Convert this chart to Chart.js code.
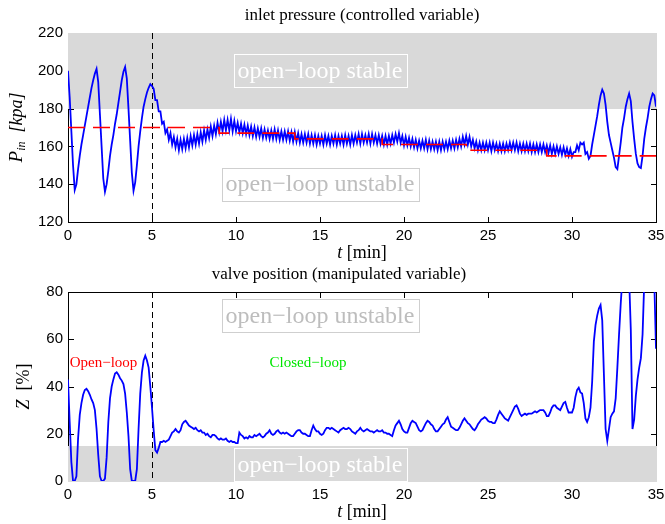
<!DOCTYPE html>
<html lang="en">
  <head>
    <meta charset="UTF-8" />
    <title>Inlet pressure and valve position</title>
    <script src="https://cdn.jsdelivr.net/npm/chart.js"></script>
    <style>
      body {
        margin: 0;
        background: #ffffff;
      }
      .wrap {
        position: relative;
        width: 665px;
        height: 524px;
      }
      canvas {
        position: absolute;
        left: 0;
      }
      #pressureChart {
        top: 0;
      }
      #valveChart {
        top: 262px;
      }
    </style>
  </head>
  <body>
    <div class="wrap">
      <canvas id="pressureChart" width="665" height="262"></canvas>
      <canvas id="valveChart" width="665" height="262"></canvas>
    </div>

    <script>
      // sampling: one value every 0.1 min, from 0 to 35 min
      const sampleTime = 0.1;
      const switchTime = 5; // open-loop -> closed-loop

      const timeTicks = [0, 5, 10, 15, 20, 25, 30, 35];
      const pressureTicks = [120, 140, 160, 180, 200, 220];
      const valveTicks = [0, 20, 40, 60, 80];

      // pressure setpoint (stepped), kPa
      const setpointTimes = [0, 9, 13.5, 18.7, 23.7, 28.5, 35];
      const setpointValues = [170, 167, 164, 161, 158, 155, 155];

      // inlet pressure P_in [kPa]
      const inletPressure = [
        200, 186, 168, 150, 137, 140, 148, 155, 161, 166,
        171, 176, 181, 186, 191, 195, 198.5, 201, 194, 177,
        160, 143, 136, 140, 147, 155, 161, 166, 172, 177,
        183, 189, 195, 199.5, 202, 196, 180, 163, 146, 136.5,
        141, 150, 160, 168, 175, 181, 185, 188.5, 191, 193,
        192,
        190.5, 184.5, 184.5, 178.5, 178.5, 172, 173, 167, 169, 163.5,
        167, 161, 165, 159.5, 164, 158, 163.5, 158.5, 164, 159,
        164.5, 159.5, 165.5, 160.5, 166, 161, 166.5, 161.5, 167.5, 162.5,
        168.5, 163.5, 169, 164.5, 170.5, 165.5, 171, 166.5, 172.5, 167.5,
        173, 168, 174, 168.5, 174, 168.5, 174.5, 168, 173.5, 168,
        172.5, 167.5, 172, 167, 171.5, 166.5, 171, 166, 170.5, 165.5,
        170, 165, 169.5, 165, 169.5, 164.5, 169, 164.5, 168.5, 164,
        168.5, 164, 169, 164, 168.5, 163.5, 168, 163.5, 168, 163.5,
        168, 163, 167.5, 162.5, 167.5, 162.5, 167, 162, 166.5, 162,
        166.5, 162, 166.5, 161.5, 166, 161.5, 166, 161, 165.5, 161.5,
        165.5, 161, 166, 161.5, 165.5, 161, 165.5, 161.5, 166, 161,
        165.5, 161.5, 165.5, 161, 166, 161.5, 165.5, 161, 166, 161.5,
        166, 162, 166.5, 161.5, 166.5, 162, 166, 162, 166.5, 161.5,
        166.5, 162, 166, 161.5, 166, 161.5, 165.5, 161, 165.5, 161,
        165.5, 161.5, 166, 162, 166.5, 162.5, 167, 162, 165.5, 160.5,
        165, 160.5, 164.5, 160, 164, 159.5, 163.5, 159, 163, 159,
        163, 159, 163.5, 158.5, 163, 158.5, 162.5, 158.5, 162.5, 158,
        162.5, 158, 162.5, 158.5, 162.5, 158.5, 163, 159, 163, 159,
        163.5, 159.5, 164, 160, 165, 161, 165.5, 161, 165, 160,
        163.5, 159, 162.5, 158, 162, 158, 162, 158, 162, 158,
        162, 157.5, 162, 158, 161.5, 157.5, 161.5, 157.5, 161.5, 157.5,
        161.5, 158, 162, 158, 162, 158, 162, 157.5, 161.5, 157.5,
        161.5, 157.5, 161.5, 157.5, 161.5, 157, 161, 157, 161, 157,
        161, 157, 161, 157, 160.5, 156.5, 160.5, 156, 160, 156,
        160, 156, 159.5, 155.5, 159.5, 155.5, 159, 155, 158.5, 154.5,
        157, 157, 160.5, 158, 162, 161, 162, 156, 157, 153.5,
        155, 161, 166, 171, 176, 182, 187, 190, 188, 182,
        173, 166, 162, 158, 154, 149, 148, 155, 162, 170,
        175, 181, 185, 188, 184, 173, 164, 156, 151, 149,
        148.5, 155, 164, 170, 175, 181, 185, 188, 187, 181
      ];

      // valve position Z [%]
      const valvePosition = [
        43, 25, 8, 0, 0, 2, 18, 28, 33, 36.5,
        38.5, 39, 38, 36.5, 34.5, 33, 30, 22, 11, 2,
        0, 0, 1, 10, 25, 35, 40, 43, 45.5, 46,
        45, 43.5, 42.5, 41, 37, 29, 19, 5, 0, 0,
        0, 5, 22, 37, 46, 51, 53, 51, 48, 40,
        31,
        21.5, 13, 12, 14, 16.5, 16.5, 17, 16.5, 17, 17.5,
        19, 20.5, 21, 22, 21, 20.5, 21.5, 24, 25, 25.5,
        24.5, 23.5, 23, 22.5, 22, 22.5, 21.5, 21, 21.5, 20.5,
        20.5, 19.5, 20, 19, 18.5, 19.5, 19.5, 19, 18, 17.5,
        18, 17.5, 17.5, 18, 17, 16.5, 17, 16.5, 16.5, 16,
        16, 20.5, 19.5, 19, 18, 18.5, 18, 19, 18.5, 18.5,
        19.5, 19, 19.5, 20, 19, 18.5, 19, 20, 20.5, 21.5,
        20, 19.5, 20, 21, 21.5, 20.5, 20, 20.5, 20, 20.5,
        20, 19.5, 19, 19, 20, 21, 21.5, 21.5, 20.5, 20,
        20, 19.5, 19, 19, 21.5, 23.5, 22, 21, 21, 20,
        19.5, 20, 21.5, 22.5, 22.5, 22, 22.5, 22, 21.5, 21,
        20.5, 21.5, 22, 22.5, 22, 22, 22.5, 22, 21, 20.5,
        20, 21, 21.5, 22.5, 21.5, 21, 21.5, 22, 21.5, 21,
        21, 20.5, 21, 21.5, 21, 21, 21.5, 20.5, 20.5, 20,
        20, 19.5, 19, 21.5, 23.5, 24.5, 25.5, 24, 22, 21,
        20.5, 20.5, 22.5, 24.5, 25.5, 25, 24.5, 23, 21.5, 21,
        21.5, 23, 24.5, 25.5, 25, 24, 23.5, 22, 21, 21,
        22, 23, 24, 24.5, 26, 27, 25, 23, 22.5, 22,
        21.5, 21.5, 22.5, 24, 25.5, 26.5, 25.5, 24.5, 24, 23,
        22, 21.5, 22.5, 24, 25, 26, 26.5, 27, 26.5, 25.5,
        25, 25, 24.5, 24.5, 26, 28, 29.5, 28.5, 27.5, 26.5,
        26, 25.5, 27, 28.5, 30, 31.5, 32, 30.5, 28.5, 27.5,
        28, 28.5, 28, 28.5, 28.5, 28.5, 29, 29.5, 29, 29.5,
        30, 30, 30, 29, 27.5, 27.5, 29, 31, 32, 32,
        31, 30.5, 30, 31.5, 33, 33.5, 31, 29, 29, 29,
        31, 35.5, 38.5, 39.5, 37.5, 37, 33, 26.5, 25, 27,
        31, 42, 59, 66, 70, 73, 74.5, 68, 45, 22,
        17, 22, 27, 28.5, 29.5, 35, 48, 62, 75, 86,
        93, 96, 94, 86, 64, 22, 26, 36, 43, 48,
        52, 62, 84, 95, 100, 100, 96, 88, 84, 56
      ];

      const SERIF = '"Liberation Serif", "Times New Roman", serif';
      const SANS = '"Liberation Sans", Arial, sans-serif';

      function toPoints(values) {
        return values.map((v, i) => ({ x: +(i * sampleTime).toFixed(1), y: v }));
      }

      // draw a row of differently styled text pieces centred on (cx, cy)
      function drawRuns(ctx, runs, cx, cy, rotate) {
        ctx.save();
        ctx.translate(cx, cy);
        if (rotate) ctx.rotate(-Math.PI / 2);
        ctx.textBaseline = "middle";
        ctx.textAlign = "left";
        let total = 0;
        runs.forEach((r) => {
          ctx.font = r.font;
          r.w = ctx.measureText(r.text).width;
          total += r.w;
        });
        let pos = -total / 2;
        runs.forEach((r) => {
          ctx.font = r.font;
          ctx.fillStyle = "#000";
          ctx.fillText(r.text, pos, r.dy || 0);
          pos += r.w;
        });
        ctx.restore();
      }

      function framePlugin(o) {
        return {
          id: "matlabFrame",
          beforeDatasetsDraw(chart) {
            const { ctx, chartArea: a, scales } = chart;
            const x = scales.x;
            const y = scales.y;
            ctx.save();
            ctx.fillStyle = "#000";
            ctx.fillRect(a.left, a.top, 1, a.height + 1);
            ctx.fillRect(a.right, a.top, 1, a.height + 1);
            ctx.fillRect(a.left, a.top, a.width + 1, 1);
            ctx.fillRect(a.left, a.bottom, a.width + 1, 1);
            timeTicks.forEach((v) => {
              const px = Math.round(x.getPixelForValue(v));
              ctx.fillRect(px, a.bottom - 5, 1, 5);
              ctx.fillRect(px, a.top, 1, 6);
            });
            o.yTicks.forEach((v) => {
              const py = Math.round(y.getPixelForValue(v));
              ctx.fillRect(a.left, py, 6, 1);
              ctx.fillRect(a.right - 5, py, 6, 1);
            });

            // grey region (drawn over the axes, as in the original)
            const p1 = y.getPixelForValue(o.band[0]);
            const p2 = y.getPixelForValue(o.band[1]);
            let y0 = Math.round(Math.min(p1, p2));
            let y1 = Math.round(Math.max(p1, p2));
            if (o.band[0] <= y.min) y1 += 1;
            ctx.fillStyle = "#d9d9d9";
            ctx.fillRect(a.left, y0, a.width + 1, y1 - y0);

            // switch from open to closed loop
            const sx = Math.round(x.getPixelForValue(switchTime)) + 0.5;
            ctx.strokeStyle = "#000";
            ctx.lineWidth = 1;
            ctx.setLineDash([6, 4]);
            ctx.beginPath();
            ctx.moveTo(sx, a.top);
            ctx.lineTo(sx, a.bottom);
            ctx.stroke();
            ctx.restore();
          },
          afterDatasetsDraw(chart) {
            const { ctx, scales } = chart;
            const x = scales.x;
            const y = scales.y;
            ctx.save();
            o.boxes.forEach((b) => {
              const cx = x.getPixelForValue(b.x);
              const cy = y.getPixelForValue(b.y);
              ctx.font = "24px " + SERIF;
              const w = Math.round(ctx.measureText(b.text).width + 8);
              const h = 33;
              const bx = Math.round(cx - w / 2) + 0.5;
              const by = Math.round(cy - h / 2) + 0.5;
              if (b.fill) {
                ctx.fillStyle = b.fill;
                ctx.fillRect(bx, by, w, h);
              }
              ctx.strokeStyle = b.edge;
              ctx.lineWidth = 1;
              ctx.strokeRect(bx, by, w, h);
              ctx.fillStyle = b.color;
              ctx.textAlign = "center";
              ctx.textBaseline = "middle";
              ctx.fillText(b.text, cx, cy + 1);
            });
            (o.notes || []).forEach((n) => {
              ctx.font = "15px " + SERIF;
              ctx.fillStyle = n.color;
              ctx.textAlign = "left";
              ctx.textBaseline = "middle";
              ctx.fillText(n.text, x.getPixelForValue(n.x), y.getPixelForValue(n.y));
            });
            ctx.restore();
          },
          afterDraw(chart) {
            const { ctx, chartArea: a } = chart;
            ctx.save();
            ctx.font = "17px " + SERIF;
            ctx.fillStyle = "#000";
            ctx.textAlign = "center";
            ctx.textBaseline = "middle";
            ctx.fillText(o.title, o.titleX, o.titleY);
            ctx.restore();
            drawRuns(
              ctx,
              [
                { text: "t", font: "italic 18px " + SERIF },
                { text: " [min]", font: "18px " + SERIF },
              ],
              (a.left + a.right) / 2,
              a.bottom + 31,
              false
            );
            drawRuns(ctx, o.yTitle, o.yTitleX, (a.top + a.bottom) / 2, true);
          },
        };
      }

      function makeChart(id, datasets, yMin, yMax, yTicks, padTop, xHeight, plugin) {
        return new Chart(document.getElementById(id), {
          type: "line",
          data: { datasets },
          options: {
            responsive: false,
            animation: false,
            events: [],
            layout: { padding: { top: padTop, right: 9, left: 0, bottom: 0 } },
            plugins: { legend: { display: false }, tooltip: { enabled: false } },
            elements: { point: { radius: 0 }, line: { tension: 0 } },
            scales: {
              x: {
                type: "linear",
                min: 0,
                max: 35,
                afterBuildTicks: (s) => {
                  s.ticks = timeTicks.map((v) => ({ value: v }));
                },
                afterFit: (s) => {
                  s.height = xHeight;
                  s.paddingLeft = 0;
                  s.paddingRight = 0;
                },
                grid: { display: false, drawTicks: false },
                border: { display: false },
                ticks: {
                  font: { family: SANS, size: 15 },
                  color: "#000",
                  padding: 5,
                  maxRotation: 0,
                  autoSkip: false,
                },
              },
              y: {
                type: "linear",
                min: yMin,
                max: yMax,
                afterBuildTicks: (s) => {
                  s.ticks = yTicks.map((v) => ({ value: v }));
                },
                afterFit: (s) => {
                  s.width = 68;
                  s.paddingTop = 0;
                  s.paddingBottom = 0;
                },
                grid: { display: false, drawTicks: false },
                border: { display: false },
                ticks: {
                  font: { family: SANS, size: 15 },
                  color: "#000",
                  padding: 5,
                  autoSkip: false,
                },
              },
            },
          },
          plugins: [plugin],
        });
      }

      const setpointPts = setpointTimes.map((t, i) => ({ x: t, y: setpointValues[i] }));

      makeChart(
        "pressureChart",
        [
          {
            data: setpointPts,
            borderColor: "#ff0000",
            borderWidth: 1.6,
            borderDash: [17, 8],
            stepped: "before",
          },
          {
            data: toPoints(inletPressure),
            borderColor: "#0000ff",
            borderWidth: 1.8,
          },
        ],
        120,
        220,
        pressureTicks,
        33,
        40,
        framePlugin({
          yTicks: pressureTicks,
          band: [180, 220],
          title: "inlet pressure (controlled variable)",
          titleX: 362,
          titleY: 16,
          yTitleX: 17,
          yTitle: [
            { text: "P", font: "italic 19px " + SERIF },
            { text: "in", font: "italic 12px " + SERIF, dy: 5 },
            { text: "  [kpa]", font: "italic 18px " + SERIF },
          ],
          boxes: [
            { text: "open\u2212loop stable", x: 15, y: 200, color: "#ffffff", edge: "#ffffff" },
            { text: "open\u2212loop unstable", x: 15, y: 140, color: "#bdbdbd", edge: "#cfcfcf", fill: "#ffffff" },
          ],
        })
      );

      makeChart(
        "valveChart",
        [
          {
            data: toPoints(valvePosition),
            borderColor: "#0000ff",
            borderWidth: 1.8,
          },
        ],
        0,
        80,
        valveTicks,
        30,
        43,
        framePlugin({
          yTicks: valveTicks,
          band: [0, 15],
          title: "valve position (manipulated variable)",
          titleX: 339,
          titleY: 13,
          yTitleX: 24,
          yTitle: [
            { text: "Z", font: "italic 18px " + SERIF },
            { text: "  [%]", font: "18px " + SERIF },
          ],
          boxes: [
            { text: "open\u2212loop unstable", x: 15, y: 70, color: "#bdbdbd", edge: "#cfcfcf", fill: "#ffffff" },
            { text: "open\u2212loop stable", x: 15, y: 7, color: "#ffffff", edge: "#ffffff" },
          ],
          notes: [
            { text: "Open\u2212loop", x: 0.1, y: 50, color: "#ff0000" },
            { text: "Closed\u2212loop", x: 12, y: 50, color: "#00e600" },
          ],
        })
      );
    </script>
  </body>
</html>
